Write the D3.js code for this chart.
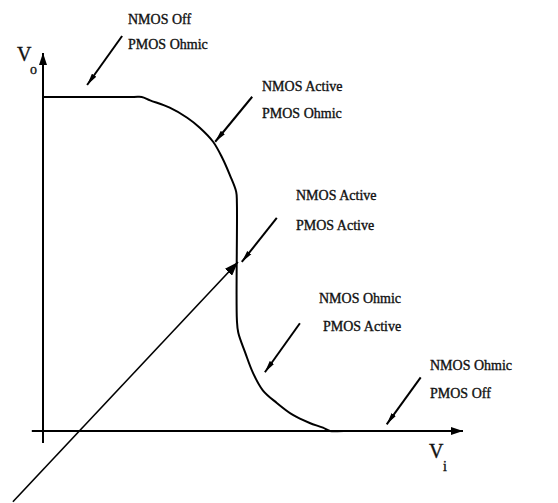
<!DOCTYPE html>
<html>
<head>
<meta charset="utf-8">
<script src="https://cdn.jsdelivr.net/npm/d3@7/dist/d3.min.js"></script>
<style>
  html, body { margin: 0; padding: 0; background: #fff; }
  svg { display: block; }
</style>
</head>
<body>
<script>
// ---- Data ----
// Transfer characteristic Vo(Vi) of a CMOS inverter
const vi = [0, 1.30, 1.41, 1.53, 1.81, 2.06, 2.24, 2.43, 2.56, 2.67, 2.76, 2.77, 2.77, 2.79, 2.89, 3.00, 3.14, 3.34, 3.57, 3.81, 4.00, 4.10, 4.30, 5.80];
const vo = [5, 5.00, 5.00, 4.95, 4.84, 4.69, 4.54, 4.33, 4.09, 3.83, 3.58, 3.41, 1.66, 1.47, 1.17, 0.87, 0.61, 0.42, 0.24, 0.12, 0.05, 0.00, 0.00, 0.00];

// Region annotations: label lines and the point on the curve each arrow indicates
const regionNmos = ["NMOS Off", "NMOS Active", "NMOS Active", "NMOS Ohmic", "NMOS Ohmic"];
const regionPmos = ["PMOS Ohmic", "PMOS Ohmic", "PMOS Active", "PMOS Active", "PMOS Off"];
const regionTipVi = [0.63, 2.46, 2.84, 3.17, 4.91];
const regionTipVo = [5.18, 4.33, 2.53, 0.88, 0.10];

// Switching-point pointer (long arrow)
const pointerVi = [-0.43, 2.786];
const pointerVo = [-1.06, 2.53];

const axisLabels = [{main: "V", sub: "o"}, {main: "V", sub: "i"}];

// ---- Layout ----
const W = 558, H = 503;
const FONT = "'Liberation Serif', 'Times New Roman', serif";
const x = d3.scaleLinear().domain([0, 6]).range([43, 463]);
const y = d3.scaleLinear().domain([0, 5]).range([431, 97]);

// label layout (pixel offsets), kept separate from data
const labelLayout = [
  {lx: 128, ly: 24, lx2: 128, ly2: 49, adx: 35, ady: -49},
  {lx: 262, ly: 91, lx2: 262, ly2: 118, adx: 37, ady: -45},
  {lx: 296, ly: 200, lx2: 296, ly2: 230, adx: 35, ady: -44},
  {lx: 319, ly: 303, lx2: 323, ly2: 331, adx: 35, ady: -49},
  {lx: 430, ly: 370, lx2: 430, ly2: 398, adx: 34, ady: -47}
];

const svg = d3.select("body").append("svg")
  .attr("width", W).attr("height", H)
  .attr("viewBox", `0 0 ${W} ${H}`);

const defs = svg.append("defs");
defs.append("marker")
  .attr("id", "smallHead")
  .attr("markerUnits", "userSpaceOnUse")
  .attr("viewBox", "0 -3 12 6")
  .attr("refX", 12).attr("refY", 0)
  .attr("markerWidth", 12).attr("markerHeight", 6)
  .attr("orient", "auto")
  .append("path").attr("d", "M0,-2.6L12,0L0,2.6Z").attr("fill", "#000");
defs.append("marker")
  .attr("id", "bigHead")
  .attr("markerUnits", "userSpaceOnUse")
  .attr("viewBox", "0 -5 14 10")
  .attr("refX", 14).attr("refY", 0)
  .attr("markerWidth", 14).attr("markerHeight", 10)
  .attr("orient", "auto")
  .append("path").attr("d", "M0,-5L14,0L0,5Z").attr("fill", "#000");
defs.append("marker")
  .attr("id", "axisHead")
  .attr("markerUnits", "userSpaceOnUse")
  .attr("viewBox", "0 -4 12 8")
  .attr("refX", 12).attr("refY", 0)
  .attr("markerWidth", 12).attr("markerHeight", 8)
  .attr("orient", "auto")
  .append("path").attr("d", "M0,-4L12,0L0,4Z").attr("fill", "#000");

// Axes (no ticks), extended slightly past the origin like the sketch
const xAxisScale = d3.scaleLinear().domain([-0.16, 6]).range([x(-0.16), x(6)]);
const yAxisScale = d3.scaleLinear().domain([-0.18, 5.66]).range([y(-0.18), y(5.66)]);

svg.append("line")
  .attr("x1", xAxisScale.range()[0]).attr("y1", y(0))
  .attr("x2", xAxisScale.range()[1]).attr("y2", y(0))
  .attr("stroke", "#000").attr("stroke-width", 2)
  .attr("marker-end", "url(#axisHead)");
svg.append("line")
  .attr("x1", x(0)).attr("y1", yAxisScale.range()[0])
  .attr("x2", x(0)).attr("y2", yAxisScale.range()[1])
  .attr("stroke", "#000").attr("stroke-width", 2)
  .attr("marker-end", "url(#axisHead)");

function txt(xp, yp, size, s) {
  return svg.append("text").attr("x", xp).attr("y", yp)
    .style("font-family", FONT).style("font-size", size + "px")
    .attr("fill", "#111").attr("stroke", "#111").attr("stroke-width", 0.35)
    .text(s);
}

// Axis labels
txt(17, 61, 20, axisLabels[0].main);
txt(30, 74, 14, axisLabels[0].sub);
txt(429, 458, 20, axisLabels[1].main);
txt(443, 471, 14, axisLabels[1].sub);

// Transfer curve
const pts = vi.map((v, i) => [v, vo[i]]);
svg.append("path")
  .datum(pts)
  .attr("fill", "none")
  .attr("stroke", "#000")
  .attr("stroke-width", 2)
  .attr("d", d3.line().x(d => x(d[0])).y(d => y(d[1])).curve(d3.curveCatmullRom.alpha(0.5)));

// Region annotations
regionNmos.forEach((t, i) => {
  const L = labelLayout[i];
  const tx = x(regionTipVi[i]), ty = y(regionTipVo[i]);
  svg.append("line")
    .attr("x1", tx + L.adx).attr("y1", ty + L.ady)
    .attr("x2", tx).attr("y2", ty)
    .attr("stroke", "#000").attr("stroke-width", 2)
    .attr("marker-end", "url(#smallHead)");
  txt(L.lx, L.ly, 14, t);
  txt(L.lx2, L.ly2, 14, regionPmos[i]);
});

// Long pointer to the switching point
svg.append("line")
  .attr("x1", x(pointerVi[0])).attr("y1", y(pointerVo[0]))
  .attr("x2", x(pointerVi[1])).attr("y2", y(pointerVo[1]))
  .attr("stroke", "#000").attr("stroke-width", 1.6)
  .attr("marker-end", "url(#bigHead)");
</script>
</body>
</html>
